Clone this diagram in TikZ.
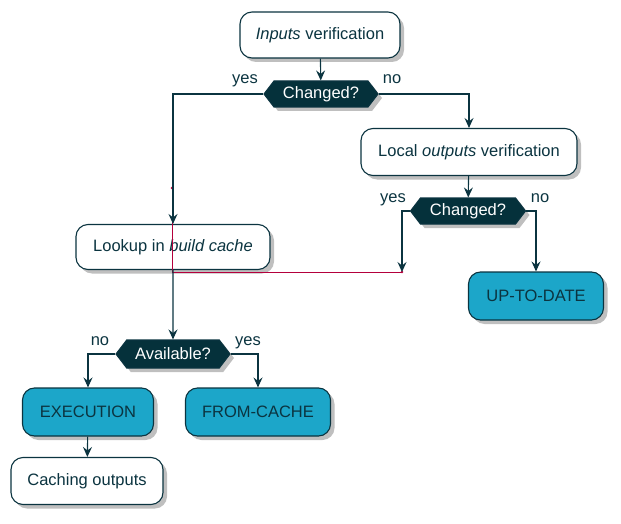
\documentclass[tikz,border=0pt]{standalone}
\usepackage{fontspec}
\setmainfont{Liberation Sans}
\usetikzlibrary{arrows.meta,shapes.symbols,shadows}

\definecolor{linecol}{HTML}{0B3440}
\definecolor{hexfill}{HTML}{05313B}
\definecolor{stopfill}{HTML}{1CA6C9}
\definecolor{mergecol}{HTML}{B4003C}

\tikzset{
    actbox/.style={
        rectangle,
        draw=linecol,
        fill=white,
        rounded corners=12pt,
        line width=1.1pt,
        inner sep=0pt,
        text=linecol,
        font=\fontsize{16.5}{19}\selectfont,
        drop shadow={shadow xshift=4pt, shadow yshift=-4pt, opacity=0.25, fill=black}
    },
    stopbox/.style={actbox, fill=stopfill},
    choice/.style={
        signal,
        signal to=east and west,
        signal pointer angle=105,
        draw=linecol,
        fill=hexfill,
        line width=1.1pt,
        inner sep=0pt,
        text=white,
        font=\fontsize{16.5}{19}\selectfont,
        drop shadow={shadow xshift=4pt, shadow yshift=-4pt, opacity=0.25, fill=black}
    },
    flow/.style={-{Stealth[length=10pt, width=9pt, inset=3.5pt]}, line width=1.1pt, draw=linecol},
    mergeline/.style={draw=mergecol, line width=0.8pt},
    branch/.style={text=linecol, font=\fontsize{16.5}{19}\selectfont, inner sep=0pt, anchor=base}
}

\begin{document}
\begin{tikzpicture}[x=1pt, y=-1pt]
    \useasboundingbox (0,0) rectangle (621,524);

    \node[actbox, minimum width=160pt, minimum height=46pt] (inputs) at (320, 35) {\textit{Inputs} verification};
    \node[choice, minimum width=114pt, minimum height=26pt] (chg1) at (321, 94) {Changed?};
    \node[actbox, minimum width=216pt, minimum height=47pt] (outputs) at (469, 152) {Local \textit{outputs} verification};
    \node[choice, minimum width=115pt, minimum height=26pt] (chg2) at (468, 211) {Changed?};
    \node[stopbox, minimum width=135pt, minimum height=48pt] (uptodate) at (536, 296) {UP-TO-DATE};
    \node[actbox, minimum width=194pt, minimum height=45pt] (lookup) at (173, 247) {Lookup in \textit{build cache}};
    \node[choice, minimum width=114pt, minimum height=28pt] (avail) at (173, 354) {Available?};
    \node[stopbox, minimum width=131pt, minimum height=48pt] (exec) at (88, 412) {EXECUTION};
    \node[stopbox, minimum width=145pt, minimum height=48pt] (fromcache) at (258, 412) {FROM-CACHE};
    \node[actbox, minimum width=152pt, minimum height=47pt] (caching) at (87, 481) {Caching outputs};

    % branch labels
    \node[branch] (yes1) at (245, 84) {yes};
    \node[branch] (no1) at (392, 84) {no};
    \node[branch] (yes2) at (393, 202) {yes};
    \node[branch] (no2) at (540, 202) {no};
    \node[branch] (no3) at (100, 345) {no};
    \node[branch] (yes3) at (248, 345) {yes};

    \coordinate (merge) at (402, 272);
    \coordinate (joint) at (172, 188);

    % merge line
    \draw[mergeline] (merge) -| (joint);
    \fill[mergecol] (joint) circle (1.3pt);
    \fill[mergecol] (merge) circle (1.3pt);

    \draw[flow] (inputs) -- (chg1);
    \draw[flow] (chg1.west) -| (lookup.north);
    \draw[flow] (chg1.east) -| (outputs.north);
    \draw[flow] (outputs) -- (chg2);
    \draw[flow] (chg2.west) -| (merge);
    \draw[flow] (chg2.east) -| (uptodate.north);
    \draw[flow] (lookup) -- (avail);
    \draw[flow] (avail.west) -| (exec.north);
    \draw[flow] (avail.east) -| (fromcache.north);
    \draw[flow] (exec) -- (caching);

\end{tikzpicture}
\end{document}
